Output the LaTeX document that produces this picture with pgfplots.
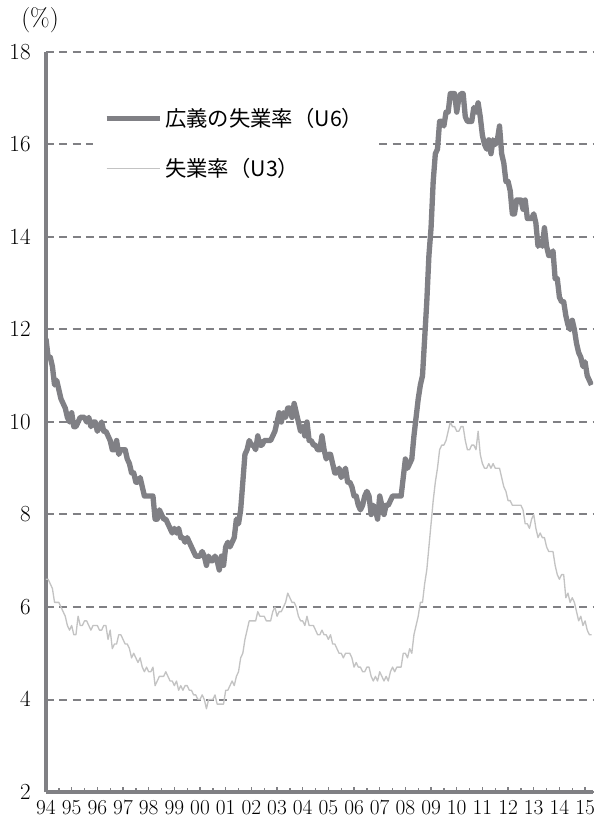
\documentclass[border=0pt]{standalone}
\usepackage{fontspec}
\newfontfamily\cjk{Noto Sans CJK JP}
\usepackage{pgfplots}
\usepackage{pgfplotstable}
\pgfplotsset{compat=1.18}
\definecolor{axgray}{RGB}{128,128,132}
\definecolor{uline}{RGB}{128,128,133}
\definecolor{lline}{RGB}{195,195,195}
\pgfplotstableread{
u6 u3
11.8 6.6
11.4 6.6
11.4 6.5
11.2 6.4
10.8 6.1
10.9 6.1
10.7 6.1
10.5 6.0
10.4 5.9
10.3 5.8
10.1 5.6
10.0 5.5
10.2 5.6
9.9 5.4
9.9 5.4
10.0 5.8
10.1 5.6
10.1 5.6
10.1 5.7
10.0 5.7
10.1 5.6
9.9 5.5
10.0 5.6
10.0 5.6
9.8 5.6
9.9 5.5
10.0 5.5
9.8 5.6
9.8 5.6
9.7 5.3
9.6 5.5
9.4 5.1
9.4 5.2
9.6 5.2
9.3 5.4
9.4 5.4
9.4 5.3
9.4 5.2
9.2 5.2
9.1 5.1
8.9 4.9
8.9 5.0
8.7 4.9
8.7 4.8
8.8 4.9
8.6 4.7
8.4 4.6
8.4 4.7
8.4 4.6
8.4 4.6
8.4 4.7
7.9 4.3
7.9 4.4
8.1 4.5
8.0 4.5
7.9 4.5
7.9 4.6
7.8 4.5
7.7 4.4
7.6 4.4
7.7 4.3
7.6 4.4
7.7 4.2
7.5 4.3
7.5 4.2
7.4 4.3
7.5 4.3
7.4 4.2
7.3 4.2
7.2 4.1
7.1 4.1
7.1 4.0
7.1 4.0
7.2 4.1
7.1 4.0
6.9 3.8
7.1 4.0
7.0 4.0
7.0 4.0
7.1 4.1
7.0 3.9
6.8 3.9
7.1 3.9
6.9 3.9
7.3 4.2
7.4 4.2
7.3 4.3
7.4 4.4
7.5 4.3
7.9 4.5
7.8 4.6
8.1 4.9
8.7 5.0
9.3 5.3
9.4 5.5
9.6 5.7
9.5 5.7
9.5 5.7
9.4 5.7
9.7 5.9
9.5 5.8
9.5 5.8
9.6 5.8
9.6 5.7
9.6 5.7
9.6 5.7
9.7 5.9
9.8 6.0
10.0 5.8
10.2 5.9
10.0 5.9
10.2 6.0
10.1 6.1
10.3 6.3
10.3 6.2
10.1 6.1
10.4 6.1
10.2 6.0
10.0 5.8
9.8 5.7
9.9 5.7
9.7 5.6
10.0 5.8
9.6 5.6
9.6 5.6
9.5 5.6
9.5 5.5
9.4 5.4
9.4 5.4
9.7 5.5
9.4 5.4
9.2 5.4
9.3 5.3
9.3 5.4
9.1 5.2
8.9 5.2
8.9 5.1
9.0 5.0
8.8 5.0
8.9 4.9
9.0 5.0
8.7 5.0
8.7 5.0
8.6 4.9
8.4 4.7
8.4 4.8
8.2 4.7
8.1 4.7
8.2 4.6
8.4 4.6
8.5 4.7
8.4 4.7
8.0 4.5
8.2 4.4
8.1 4.5
7.9 4.4
8.4 4.6
8.2 4.5
8.0 4.4
8.2 4.5
8.2 4.4
8.3 4.6
8.4 4.7
8.4 4.6
8.4 4.7
8.4 4.7
8.4 4.7
8.8 5.0
9.2 5.0
9.0 4.9
9.1 5.1
9.2 5.0
9.7 5.4
10.1 5.6
10.5 5.8
10.8 6.1
11.0 6.1
11.8 6.5
12.6 6.8
13.6 7.3
14.2 7.8
15.2 8.3
15.8 8.7
15.9 9.0
16.5 9.4
16.5 9.5
16.4 9.5
16.7 9.6
16.7 9.8
17.1 10.0
17.1 9.9
17.1 9.9
16.7 9.8
17.0 9.8
17.1 9.9
17.1 9.9
16.6 9.6
16.5 9.4
16.5 9.4
16.5 9.5
16.8 9.5
16.7 9.4
16.9 9.8
16.6 9.3
16.2 9.1
16.0 9.0
15.9 9.0
16.1 9.1
15.8 9.0
16.1 9.1
16.0 9.0
16.1 9.0
16.4 9.0
15.8 8.8
15.6 8.6
15.2 8.5
15.2 8.3
15.0 8.3
14.5 8.2
14.5 8.2
14.8 8.2
14.8 8.2
14.8 8.2
14.6 8.1
14.8 7.8
14.4 7.8
14.4 7.7
14.4 7.9
14.5 8.0
14.3 7.7
13.8 7.5
13.9 7.6
13.8 7.5
14.2 7.5
13.8 7.3
13.6 7.2
13.6 7.2
13.7 7.2
13.1 6.9
13.1 6.7
12.7 6.6
12.6 6.7
12.6 6.7
12.3 6.2
12.1 6.3
12.0 6.1
12.2 6.2
12.0 6.1
11.7 5.9
11.5 5.7
11.4 5.8
11.2 5.6
11.3 5.7
11.0 5.5
10.9 5.4
10.8 5.4
}\data

\begin{document}
\begin{tikzpicture}[x=1pt,y=1pt]
\useasboundingbox (-34.5,-20.25) rectangle (412.5,594);
\begin{axis}[
  at={(0,0)}, anchor=south west, scale only axis,
  width=410.25pt, height=555pt,
  xmin=0, xmax=255.7, ymin=2, ymax=18,
  axis x line*=bottom, axis y line*=left,
  axis line style={draw=axgray, line width=2.5pt},
  ytick={2,4,...,18},
  xtick={0,12,...,252},
  xticklabels={94,95,96,97,98,99,00,01,02,03,04,05,06,07,08,09,10,11,12,13,14,15},
  minor xtick={6,18,...,246},
  tick align=inside,
  major tick length=4pt, minor tick length=3pt,
  xtick style={draw=axgray, line width=1pt},
  minor tick style={draw=axgray, line width=1pt},
  ytick style={draw=none},
  ymajorgrids,
  major grid style={draw=axgray, line width=1.5pt, dash pattern=on 6pt off 4pt},
  ticklabel style={font=\fontsize{16}{16}\selectfont},
  yticklabel style={xshift=-8pt},
  xticklabel style={yshift=-2.5pt},
  legend cell align=left,
  legend image code/.code={\draw[#1] (0pt,0pt) -- (40pt,0pt);},
  legend style={at={(0.086,0.942)}, anchor=north west, draw=none, fill=white,
    font=\cjk\fontsize{16}{16}\selectfont, inner xsep=8pt, inner ysep=8pt,
    row sep=18pt},
]
\addplot[uline, line width=4pt, line join=round] table[x expr=\coordindex, y=u6] {\data};
\addlegendentry{広義の失業率（U6）}
\addplot[lline, line width=1pt, line join=round] table[x expr=\coordindex, y=u3] {\data};
\addlegendentry{失業率（U3）}
\end{axis}
\node[font=\fontsize{19}{19}\selectfont] at (-4.5,579) {(\%)};
\end{tikzpicture}
\end{document}
